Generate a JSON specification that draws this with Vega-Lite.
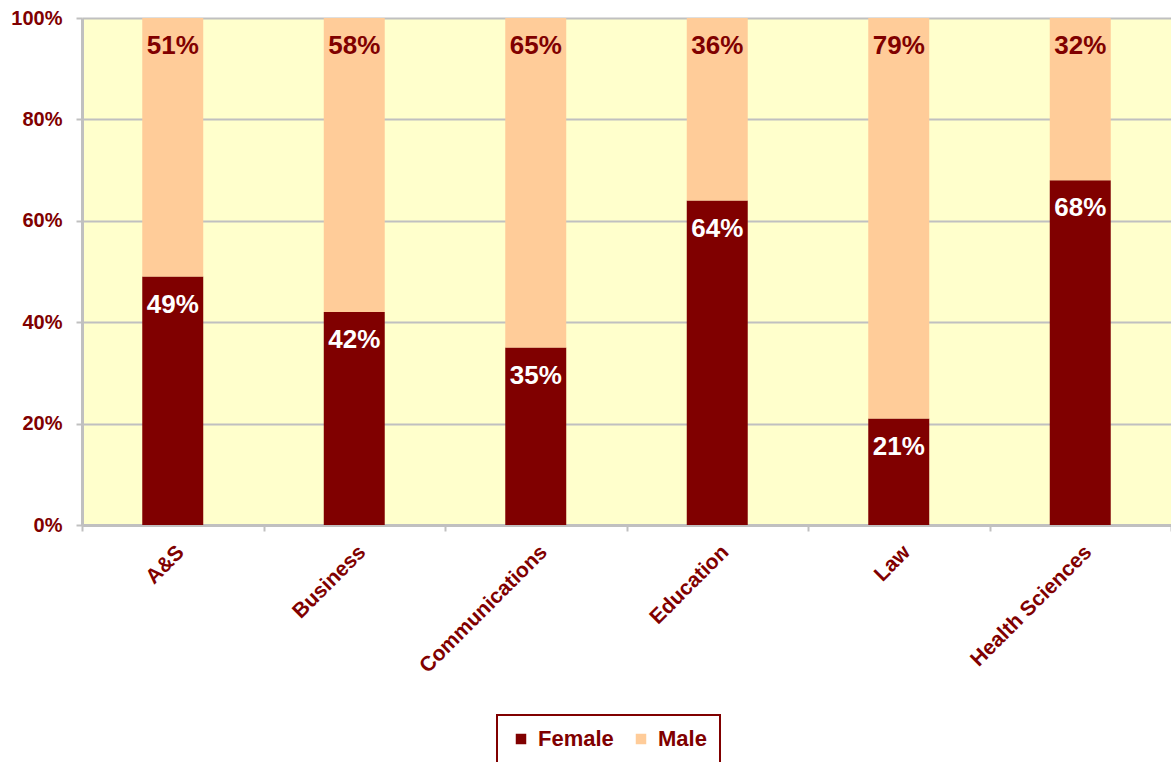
{
  "$schema": "https://vega.github.io/schema/vega-lite/v6.json",
  "width": 1089,
  "height": 507,
  "autosize": {"type": "none"},
  "padding": {"left": 82, "top": 18, "right": 0, "bottom": 237},
  "background": "white",
  "config": {
    "font": "Liberation Sans",
    "view": {"fill": "#FFFFCC", "stroke": null},
    "axis": {"labelFont": "Liberation Sans", "labelFontWeight": "bold", "labelColor": "#800000"}
  },
  "data": {
    "values": [
      {"school": "A&S", "sex": "Female", "share": 0.49},
      {"school": "A&S", "sex": "Male", "share": 0.51},
      {"school": "Business", "sex": "Female", "share": 0.42},
      {"school": "Business", "sex": "Male", "share": 0.58},
      {"school": "Communications", "sex": "Female", "share": 0.35},
      {"school": "Communications", "sex": "Male", "share": 0.65},
      {"school": "Education", "sex": "Female", "share": 0.64},
      {"school": "Education", "sex": "Male", "share": 0.36},
      {"school": "Law", "sex": "Female", "share": 0.21},
      {"school": "Law", "sex": "Male", "share": 0.79},
      {"school": "Health Sciences", "sex": "Female", "share": 0.68},
      {"school": "Health Sciences", "sex": "Male", "share": 0.32}
    ]
  },
  "transform": [
    {"stack": "share", "groupby": ["school"], "sort": [{"field": "sex", "order": "ascending"}], "as": ["y0", "y1"]}
  ],
  "layer": [
    {
      "mark": {"type": "bar", "width": {"band": 0.336}},
      "encoding": {
        "x": {
          "field": "school", "type": "nominal", "sort": null,
          "scale": {"paddingInner": 0, "paddingOuter": 0},
          "axis": {
            "title": null, "labelAngle": -45, "labelFontSize": 21,
            "ticks": true, "tickBand": "extent", "tickSize": 6, "tickWidth": 2, "tickColor": "#C0C0C0",
            "domain": true, "domainColor": "#C0C0C0", "domainWidth": 3, "labelPadding": 10
          }
        },
        "y": {
          "field": "y0", "type": "quantitative",
          "scale": {"domain": [0, 1]},
          "axis": {
            "title": null, "format": ".0%", "values": [0, 0.2, 0.4, 0.6, 0.8, 1],
            "labelFontSize": 20, "labelPadding": 14, "tickSize": 6, "tickWidth": 2, "tickColor": "#C0C0C0",
            "domainColor": "#C0C0C0", "domainWidth": 3, "gridColor": "#C0C0C0", "gridWidth": 2, "gridOpacity": 1
          }
        },
        "y2": {"field": "y1"},
        "color": {
          "field": "sex", "type": "nominal",
          "scale": {"domain": ["Female", "Male"], "range": ["#800000", "#FFCC99"]},
          "legend": {
            "title": null, "orient": "none", "legendX": 415, "legendY": 697, "direction": "horizontal",
            "symbolType": "square", "symbolSize": 110, "symbolStrokeWidth": 0, "symbolOpacity": 1,
            "labelFontSize": 22, "labelFont": "Liberation Sans", "labelFontWeight": "bold", "labelColor": "#800000",
            "labelOffset": 6, "columnPadding": 16, "padding": 13,
            "strokeColor": "#800000", "fillColor": "white",
            "encode": {"legend": {"update": {"strokeWidth": {"value": 2}}}}
          }
        }
      }
    },
    {
      "mark": {"type": "text", "dy": 28, "baseline": "middle", "align": "center", "fontSize": 26, "fontWeight": "bold", "font": "Liberation Sans"},
      "encoding": {
        "x": {"field": "school", "type": "nominal", "sort": null},
        "y": {"field": "y1", "type": "quantitative"},
        "text": {"field": "share", "type": "quantitative", "format": ".0%"},
        "color": {
          "condition": {"test": "datum.sex === 'Female'", "value": "white"},
          "value": "#800000"
        }
      }
    }
  ]
}
